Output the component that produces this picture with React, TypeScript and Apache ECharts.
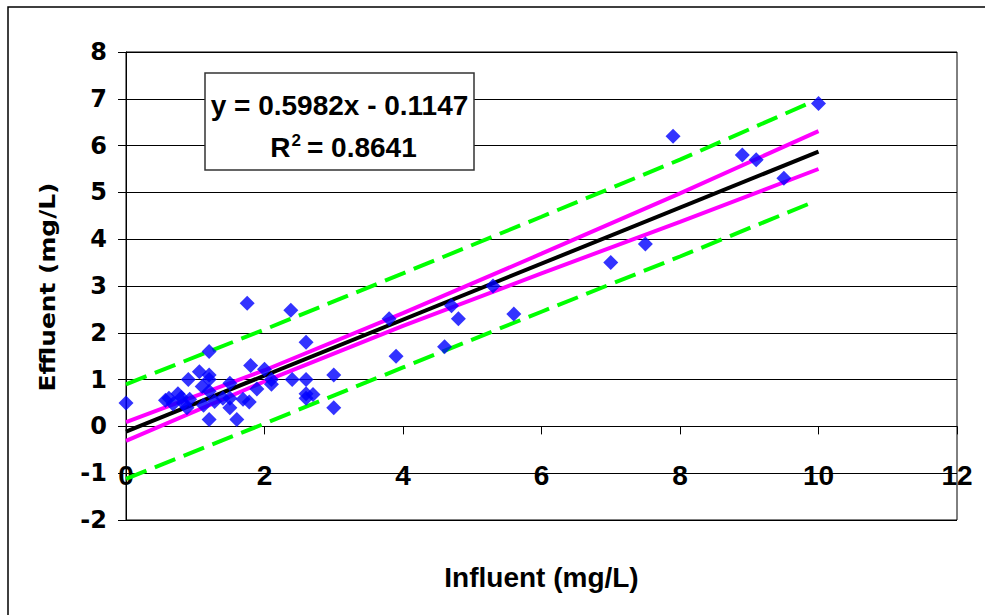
import React, { useEffect, useRef } from "react";
import * as echarts from "echarts";

// Observed data points (Influent vs Effluent, mg/L)
const influent = [
  0, 0.57, 0.62, 0.68, 0.75, 0.8, 0.83, 0.88, 0.9, 0.92,
  1.06, 1.1, 1.12, 1.2, 1.2, 1.2, 1.2, 1.2, 1.28, 1.4,
  1.5, 1.5, 1.5, 1.6, 1.69, 1.75, 1.78, 1.8, 1.89, 2.0,
  2.1, 2.1, 2.38, 2.4, 2.6, 2.6, 2.6, 2.6, 2.7, 3.0,
  3.0, 3.8, 3.9, 4.6, 4.7, 4.8, 5.3, 5.6, 7.0, 7.5,
  7.9, 8.9, 9.1, 9.5, 10,
];
const effluent = [
  0.5, 0.56, 0.6, 0.48, 0.7, 0.62, 0.5, 0.4, 1.0, 0.58,
  1.17, 0.85, 0.45, 1.6, 1.1, 1.0, 0.75, 0.15, 0.53, 0.6,
  0.92, 0.6, 0.4, 0.15, 0.58, 2.63, 0.52, 1.3, 0.8, 1.22,
  1.0, 0.9, 2.48, 1.0, 1.8, 1.0, 0.7, 0.6, 0.68, 1.1,
  0.4, 2.3, 1.5, 1.7, 2.58, 2.3, 3.0, 2.4, 3.5, 3.9,
  6.2, 5.8, 5.7, 5.3, 6.9,
];

// Regression line (black)
const trendX = [0, 10];
const trendY = [-0.11, 5.87];

// Confidence band (magenta)
const ciX = [0, 2, 4, 6, 8, 10];
const ciUpper = [0.09, 1.2, 2.42, 3.69, 4.98, 6.31];
const ciLower = [-0.31, 0.96, 2.15, 3.27, 4.37, 5.5];

// Prediction band (green dashed)
const piX = [0, 2, 4, 6, 8, 9.9];
const piUpper = [0.9, 2.07, 3.27, 4.48, 5.7, 6.93];
const piLower = [-1.12, 0.06, 1.26, 2.45, 3.63, 4.78];

// Axis settings
const xTicks = { min: 0, max: 12, interval: 2 };
const yTicks = { min: -2, max: 8, interval: 1 };

const xTitle = "Influent (mg/L)";
const yTitle = "Effluent (mg/L)";
const equationText = "y = 0.5982x - 0.1147";
const r2Value = "0.8641";

const ARIAL = '"Liberation Sans", Arial, sans-serif';
const VERDANA = '"DejaVu Sans", Verdana, sans-serif';

const zip = (xs: number[], ys: number[]) => xs.map((x, i) => [x, ys[i]]);

// layout
const GRID_TOP = 52;
const GRID_BOTTOM = 95;
const CHART_H = 615;
const unitPx = (CHART_H - GRID_TOP - GRID_BOTTOM) / (yTicks.max - yTicks.min);
const xAxisOffset = -(0 - yTicks.min) * unitPx; // place x axis at y = 0

export default function App() {
  const ref = useRef<HTMLDivElement>(null);

  useEffect(() => {
    if (!ref.current) return;
    const chart = echarts.init(ref.current, null, { renderer: "svg" });

    const lineSeries = (name: string, data: number[][], color: string, dashed: boolean, z: number) => ({
      name,
      type: "line",
      data,
      symbol: "none",
      showSymbol: false,
      z,
      lineStyle: {
        color,
        width: 4,
        type: dashed ? [22, 9] : "solid",
        cap: "butt",
      },
    });

    chart.setOption({
      animation: false,
      backgroundColor: "#fff",
      grid: {
        left: 126,
        top: GRID_TOP,
        right: 28,
        bottom: GRID_BOTTOM,
        show: true,
        borderColor: "#000",
        borderWidth: 1,
        backgroundColor: "transparent",
        outerBoundsMode: "none",
        containLabel: false,
      },
      xAxis: {
        type: "value",
        min: xTicks.min,
        max: xTicks.max,
        interval: xTicks.interval,
        offset: xAxisOffset,
        axisLine: { show: true, onZero: false, lineStyle: { color: "#000", width: 1 } },
        axisTick: { show: true, length: 8, lineStyle: { color: "#000", width: 1 } },
        axisLabel: {
          margin: 35,
          fontSize: 28,
          fontWeight: "bold",
          color: "#000",
          fontFamily: ARIAL,
        },
        splitLine: { show: false },
        name: xTitle,
        nameLocation: "middle",
        nameGap: 137,
        nameTextStyle: {
          fontSize: 28,
          fontWeight: "bold",
          color: "#000",
          fontFamily: ARIAL,
        },
      },
      yAxis: {
        type: "value",
        min: yTicks.min,
        max: yTicks.max,
        interval: yTicks.interval,
        axisLine: { show: true, onZero: false, lineStyle: { color: "#000", width: 1 } },
        axisTick: { show: true, length: 8, lineStyle: { color: "#000", width: 1 } },
        axisLabel: {
          margin: 19,
          fontSize: 24,
          fontWeight: "bold",
          color: "#000",
          fontFamily: VERDANA,
        },
        splitLine: { show: true, lineStyle: { color: "#000", width: 1 } },
      },
      series: [
        lineSeries("Prediction upper", zip(piX, piUpper), "#00FF00", true, 2),
        lineSeries("Prediction lower", zip(piX, piLower), "#00FF00", true, 2),
        lineSeries("Confidence upper", zip(ciX, ciUpper), "#FF00FF", false, 3),
        lineSeries("Confidence lower", zip(ciX, ciLower), "#FF00FF", false, 3),
        lineSeries("Regression", zip(trendX, trendY), "#000000", false, 4),
        {
          name: "Data",
          type: "scatter",
          symbol: "diamond",
          symbolSize: 15,
          z: 5,
          itemStyle: { color: "#0000FF" },
          data: zip(influent, effluent),
        },
      ],
      graphic: [
        {
          type: "rect",
          z: 100,
          shape: { x: 8, y: 7, width: 1000, height: 700 },
          style: { fill: "none", stroke: "#000", lineWidth: 1.5 },
          silent: true,
        },
        {
          type: "text",
          z: 100,
          x: 47.5,
          y: 287,
          rotation: Math.PI / 2,
          scaleX: 1.13,
          style: {
            text: yTitle,
            align: "center",
            verticalAlign: "middle",
            fontSize: 22,
            fontWeight: "bold",
            fontFamily: VERDANA,
            fill: "#000",
          },
        },
        {
          type: "rect",
          z: 100,
          shape: { x: 205, y: 73, width: 269, height: 97 },
          style: { fill: "#fff", stroke: "#333", lineWidth: 1.5 },
        },
        {
          type: "text",
          z: 101,
          x: 339.5,
          y: 105,
          style: {
            text: equationText,
            align: "center",
            verticalAlign: "middle",
            fontSize: 28,
            fontWeight: "bold",
            fontFamily: ARIAL,
            fill: "#000",
          },
        },
        {
          type: "text",
          z: 101,
          x: 343.5,
          y: 147,
          style: {
            text: "{r|R}{s|2}{r|= " + r2Value + "}",
            align: "center",
            verticalAlign: "middle",
            fill: "#000",
            rich: {
              r: { fontSize: 28, fontWeight: "bold", fontFamily: ARIAL, lineHeight: 30, fill: "#000" },
              s: {
                fontSize: 17,
                fontWeight: "bold",
                fontFamily: ARIAL,
                lineHeight: 17,
                verticalAlign: "top",
                fill: "#000",
                padding: [0, 6, 0, 1],
              },
            },
          },
        },
      ],
    });

    return () => chart.dispose();
  }, []);

  return (
    <div
      ref={ref}
      style={{ position: "fixed", left: 0, top: 0, width: 985, height: 615, background: "#fff" }}
    />
  );
}
